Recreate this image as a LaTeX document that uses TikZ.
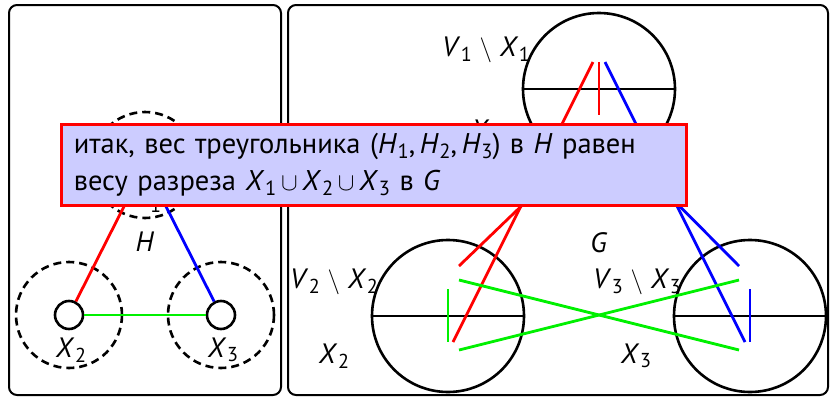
\documentclass[tikz,border=0pt]{standalone}
\usepackage{fontspec}
\setmainfont{PT Sans}
\definecolor{boxfill}{RGB}{204,204,255}
\definecolor{lgreen}{RGB}{0,240,0}
\newcommand\vv[2]{\textit{#1}\kern0.02em\raisebox{-0.32ex}{\scalebox{0.72}{#2}}}
\newcommand\stm{\;$\setminus$\;}
\newcommand\cupp{\,$\cup$\,}
\tikzset{
  panel/.style={draw, line width=2pt, rounded corners=8pt},
  vtx/.style={circle, draw, line width=2.6pt, minimum size=28pt, inner sep=0pt, fill=white},
  dcirc/.style={circle, draw, line width=2.6pt, dash pattern=on 8pt off 5pt, minimum size=106pt, inner sep=0pt},
  big/.style={circle, draw, line width=2.6pt, minimum size=152pt, inner sep=0pt},
  edg/.style={line width=2.8pt},
  lbl/.style={inner sep=0pt, font=\fontsize{28}{32}\selectfont},
  msgbox/.style={draw=red, line width=2.6pt, fill=boxfill, anchor=north west,
    minimum width=625pt, minimum height=81pt, text width=600pt, inner xsep=11pt,
    align=left, font=\fontsize{28.5}{37}\selectfont}
}
\begin{document}
\begin{tikzpicture}[x=1pt,y=-1pt]
\useasboundingbox (0,0) rectangle (831,397);
% panels
\draw[panel] (9,5) rectangle (281,395);
\draw[panel] (288,5) rectangle (828,395);
% left panel
\node[dcirc] (d1) at (145,165) {};
\node[dcirc] (d2) at (69,315) {};
\node[dcirc] (d3) at (221,315) {};
\node[vtx] (h1) at (145,165) {};
\node[vtx] (h2) at (69,315) {};
\node[vtx] (h3) at (221,315) {};
\draw[edg, red] (h2) -- (h1);
\draw[edg, blue] (h3) -- (h1);
\draw[edg, lgreen] (h2) -- (h3);
\node[lbl] (lx1) at (146,200) {\vv{X}{1}};
\node[lbl] (lx2) at (71,350) {\vv{X}{2}};
\node[lbl] (lx3) at (223,350) {\vv{X}{3}};
\node[lbl] (lh) at (145,242) {\textit{H}};
% right panel
\node[big] (c1) at (599,89) {};
\node[big] (c2) at (448,316) {};
\node[big] (c3) at (750,316) {};
\draw[line width=2.6pt] (c1.west) -- (c1.east);
\draw[line width=2.6pt] (c2.west) -- (c2.east);
\draw[line width=2.6pt] (c3.west) -- (c3.east);
% points
\coordinate (a1) at (593,62);
\coordinate (t1) at (599,62);
\coordinate (u1) at (599,115);
\coordinate (b1) at (605,62);
\coordinate (rs1) at (590,140);
\coordinate (bs1) at (614,140);
\coordinate (r2) at (453,342);
\coordinate (s2) at (459,266);
\coordinate (ga2) at (459,280);
\coordinate (gb2) at (459,350);
\coordinate (t2) at (448,289);
\coordinate (u2) at (448,342);
\coordinate (b3) at (745,342);
\coordinate (s3) at (739,266);
\coordinate (ga3) at (739,280);
\coordinate (gb3) at (739,350);
\coordinate (t3) at (750,289);
\coordinate (u3) at (750,342);
% edges
\draw[edg, red] (a1) -- (r2);
\draw[edg, red] (s2) -- (rs1);
\draw[edg, red] (t1) -- (u1);
\draw[edg, blue] (b1) -- (b3);
\draw[edg, blue] (s3) -- (bs1);
\draw[edg, blue] (t3) -- (u3);
\draw[edg, lgreen] (t2) -- (u2);
\draw[edg, lgreen] (ga2) -- (gb3);
\draw[edg, lgreen] (gb2) -- (ga3);
% labels
\node[lbl] (v1) at (486,50) {\vv{V}{1}\stm\vv{X}{1}};
\node[lbl] (x1) at (486,132) {\vv{X}{1}};
\node[lbl] (v2) at (334,282) {\vv{V}{2}\stm\vv{X}{2}};
\node[lbl] (x2) at (334,356) {\vv{X}{2}};
\node[lbl] (v3) at (637,282) {\vv{V}{3}\stm\vv{X}{3}};
\node[lbl] (x3) at (636,356) {\vv{X}{3}};
\node[lbl] (g) at (599,243) {\textit{G}};
% message box
\node[msgbox] (box) at (60,123) {итак, вес треугольника (\vv{H}{1},\,\vv{H}{2},\,\vv{H}{3}) в \textit{H} равен\\ весу разреза \vv{X}{1}\cupp\vv{X}{2}\cupp\vv{X}{3} в \textit{G}};
\end{tikzpicture}
\end{document}
